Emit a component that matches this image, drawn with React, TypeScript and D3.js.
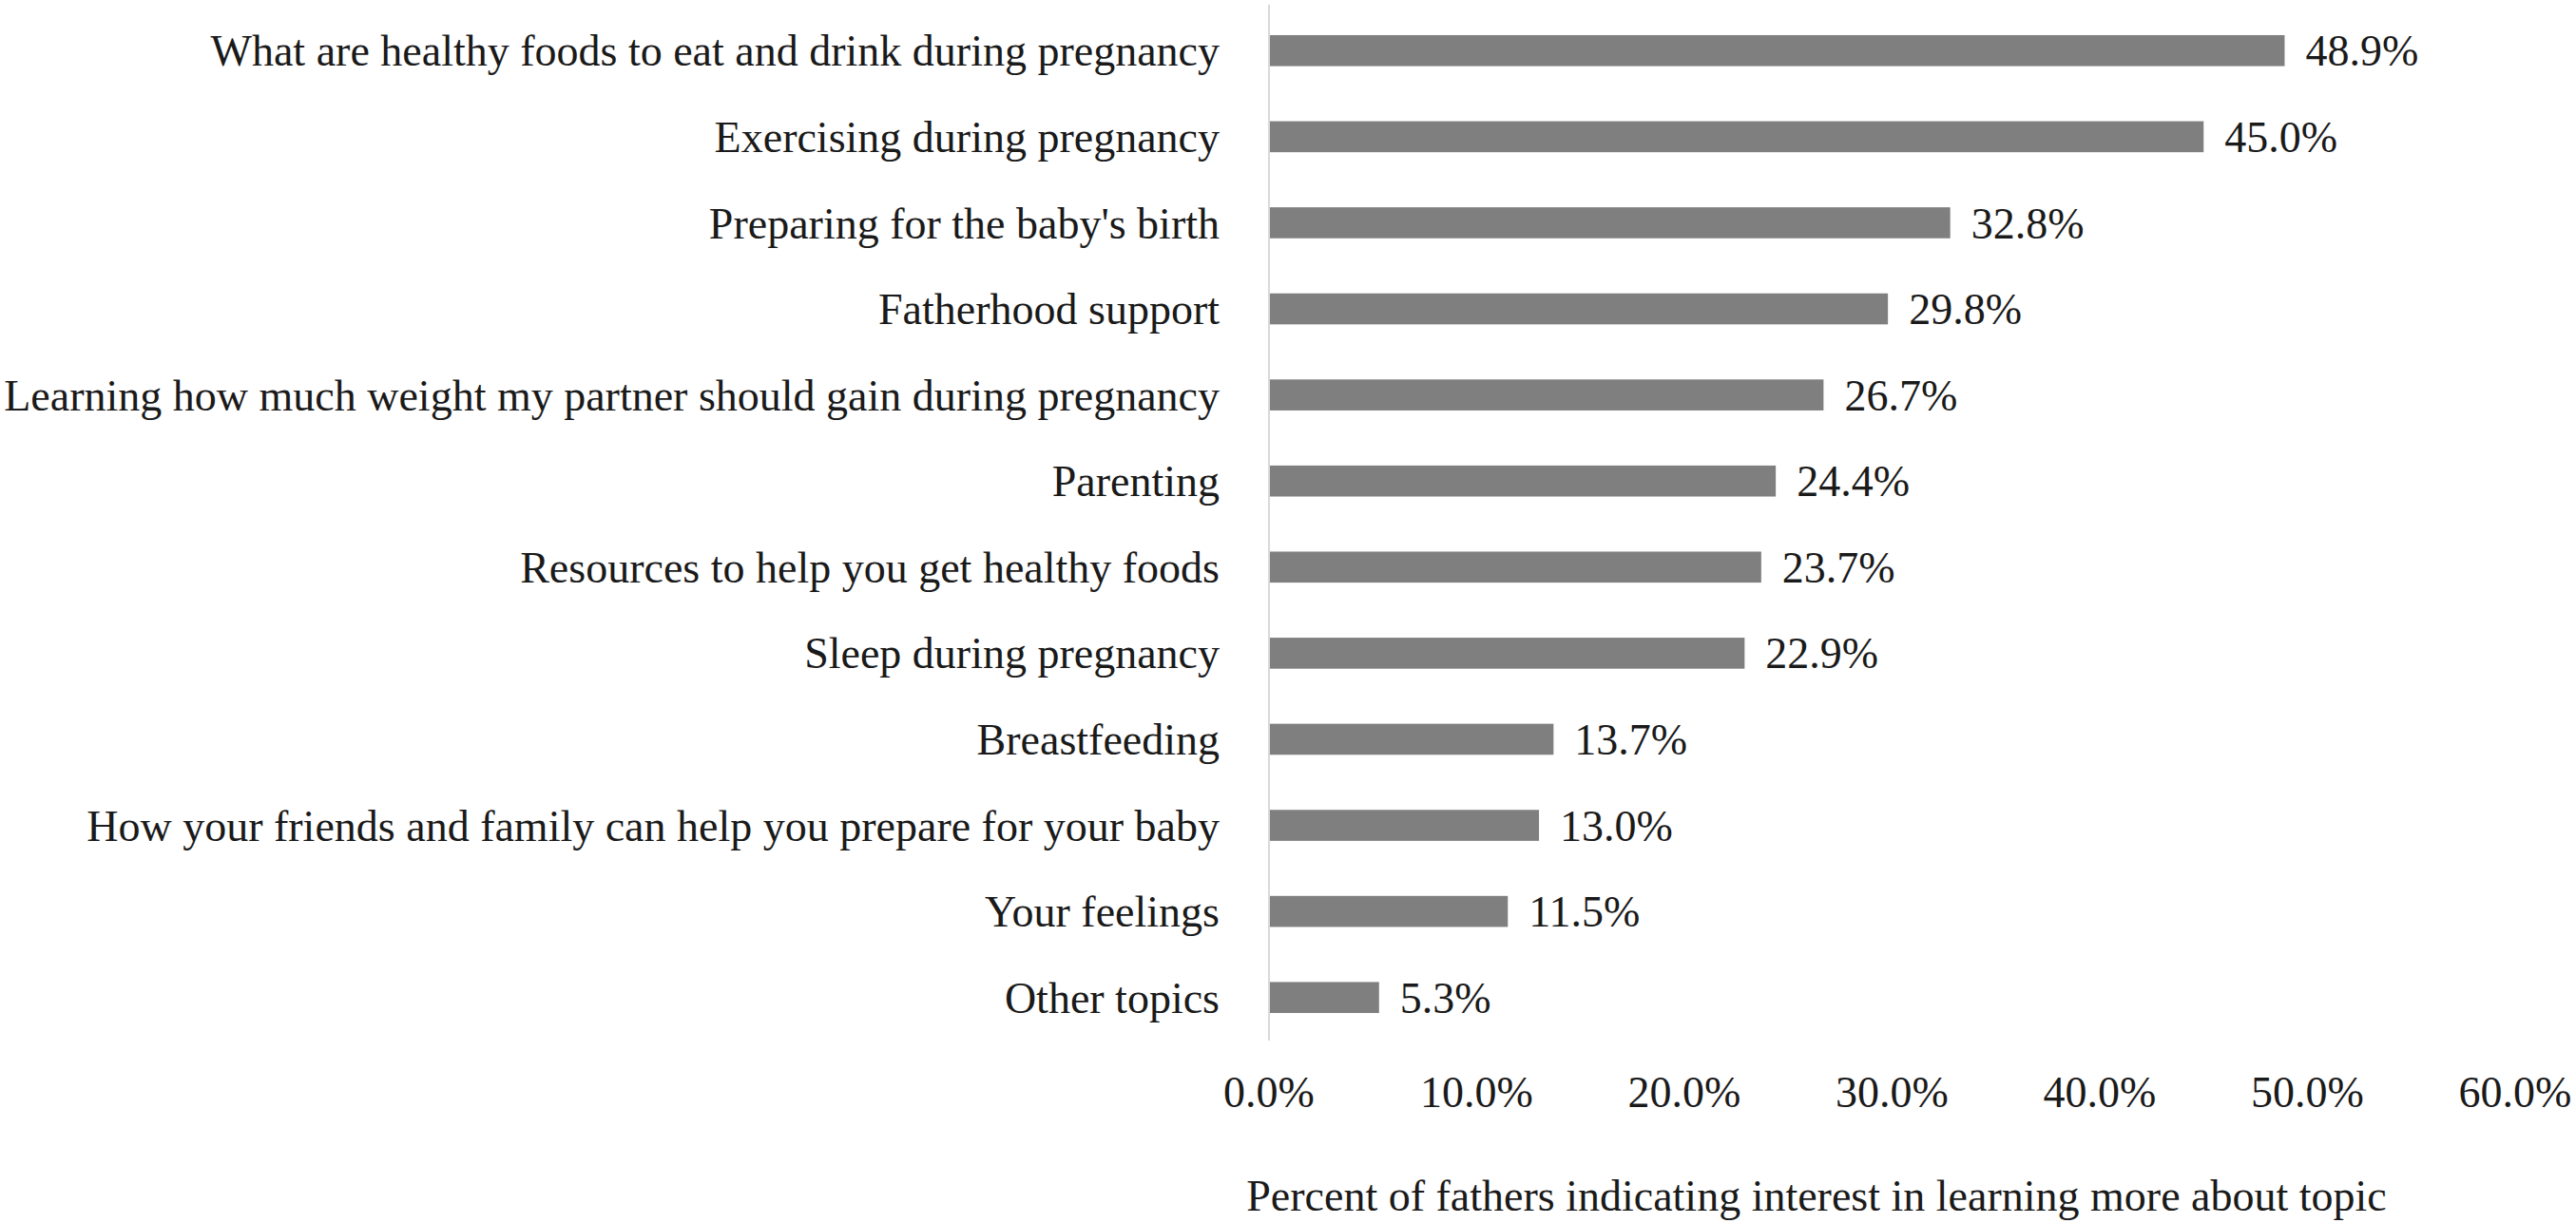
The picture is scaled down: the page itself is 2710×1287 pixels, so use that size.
import React from "react";
import * as d3 from "d3";

const categories = [
  "What are healthy foods to eat and drink during pregnancy",
  "Exercising during pregnancy",
  "Preparing for the baby's birth",
  "Fatherhood support",
  "Learning how much weight my partner should gain during pregnancy",
  "Parenting",
  "Resources to help you get healthy foods",
  "Sleep during pregnancy",
  "Breastfeeding",
  "How your friends and family can help you prepare for your baby",
  "Your feelings",
  "Other topics",
];
const values = [48.9, 45.0, 32.8, 29.8, 26.7, 24.4, 23.7, 22.9, 13.7, 13.0, 11.5, 5.3];
const xTicks = [0, 10, 20, 30, 40, 50, 60];
const xAxisTitle = "Percent of fathers indicating interest in learning more about topic";

const W = 2710;
const H = 1287;
const FONT = "'Liberation Serif', 'Times New Roman', serif";
const FS = 46;

export default function App() {
  const x = d3.scaleLinear().domain([0, 60]).range([1335, 2646]);
  const y = d3
    .scaleBand<string>()
    .domain(categories)
    .range([8, 1095])
    .paddingInner(0.64)
    .paddingOuter(0.32);
  const fmt = (v: number) => v.toFixed(1) + "%";
  return (
    <svg
      width={W}
      height={H}
      style={{ position: "absolute", left: 0, top: 0, background: "#fff" }}
      fontFamily={FONT}
    >
      <rect x={0} y={0} width={W} height={H} fill="#fff" />
      {categories.map((c, i) => (
        <g key={c}>
          <rect
            x={x(0)}
            y={y(c)!}
            width={x(values[i]) - x(0)}
            height={y.bandwidth()}
            fill="#7f7f7f"
          />
          <text
            x={x(values[i]) + 22}
            y={y(c)! + y.bandwidth() / 2}
            dy="0.35em"
            fontSize={FS}
            fill="#1a1a1a"
          >
            {fmt(values[i])}
          </text>
          <text
            x={1283}
            y={y(c)! + y.bandwidth() / 2}
            dy="0.35em"
            fontSize={FS}
            textAnchor="end"
            fill="#1a1a1a"
          >
            {c}
          </text>
        </g>
      ))}
      <line x1={x(0)} x2={x(0)} y1={5} y2={1095} stroke="#d9d9d9" strokeWidth={2} />
      {xTicks.map((t) => (
        <text
          key={t}
          x={x(t)}
          y={1165}
          fontSize={FS}
          textAnchor="middle"
          fill="#1a1a1a"
        >
          {fmt(t)}
        </text>
      ))}
      <text x={1911} y={1274} fontSize={FS} textAnchor="middle" fill="#1a1a1a">
        {xAxisTitle}
      </text>
    </svg>
  );
}
